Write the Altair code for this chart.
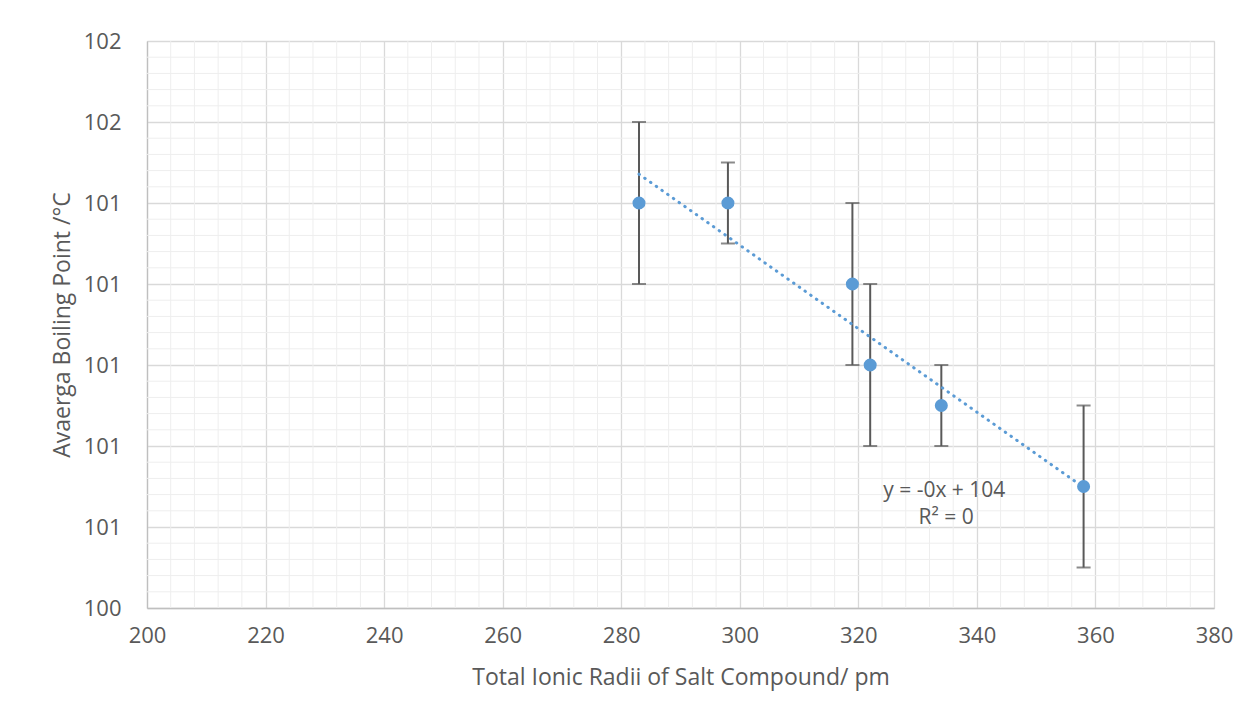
import altair as alt
import pandas as pd

# Data
radii = [283, 298, 319, 322, 334, 358]
boiling = [101.4, 101.4, 101.2, 101.0, 100.9, 100.7]
errors = [0.2, 0.1, 0.2, 0.2, 0.1, 0.2]

x_ticks = [200, 220, 240, 260, 280, 300, 320, 340, 360, 380]
y_ticks = [100.4, 100.6, 100.8, 101.0, 101.2, 101.4, 101.6, 101.8]
eq_lines = ["y = -0x + 104", "R² = 0"]
eq_x = [334.5, 334.8]
eq_y = [100.688, 100.622]

df = pd.DataFrame({
    "x": radii,
    "y": boiling,
    "lo": [b - e for b, e in zip(boiling, errors)],
    "hi": [b + e for b, e in zip(boiling, errors)],
})

# minor gridline positions (5 subdivisions between major ticks)
x_minor = [x_ticks[i] + 4 * k for i in range(len(x_ticks) - 1) for k in range(1, 5)]
y_minor = [round(y_ticks[i] + 0.04 * k, 3) for i in range(len(y_ticks) - 1) for k in range(1, 5)]

FONT = "Open Sans"
GRAY = "#595959"
Y_TITLE = "Avaerga Boiling Point /°C"

xs = alt.Scale(domain=[200, 380], nice=False, zero=False)
ys = alt.Scale(domain=[100.4, 101.8], nice=False, zero=False)

base = alt.Chart(df)

x_axis = alt.Axis(
    values=x_ticks, format="d", grid=True, gridColor="#d9d9d9", gridWidth=1.3,
    ticks=False, domain=True, domainColor="#bfbfbf", domainWidth=1.3,
    labelFont=FONT, labelFontSize=22, labelColor=GRAY, labelPadding=17,
    labelFlush=False, labelOverlap=False,
    title="Total Ionic Radii of Salt Compound/ pm", titleFont=FONT,
    titleFontSize=23, titleFontWeight="normal", titleColor=GRAY,
    titleX=533.5, titleY=69, titleBaseline="middle", titleAlign="center",
)
y_axis = alt.Axis(
    values=y_ticks, format=".0f", grid=True, gridColor="#d9d9d9", gridWidth=1.3,
    ticks=False, domain=True, domainColor="#bfbfbf", domainWidth=1.3,
    labelFont=FONT, labelFontSize=22, labelColor=GRAY, labelPadding=26,
    labelFlush=False, labelOverlap=False,
    title=Y_TITLE, titleFont=FONT,
    titleFontSize=23, titleFontWeight="normal", titleColor=GRAY,
    titleX=-85, titleY=283.5, titleAngle=-90, titleBaseline="middle",
    titleAlign="center",
)

axes_layer = base.mark_point(opacity=0).encode(
    x=alt.X("x:Q", scale=xs, axis=x_axis),
    y=alt.Y("y:Q", scale=ys, axis=y_axis),
)

minor_x = alt.Chart(pd.DataFrame({"v": x_minor})).mark_rule(
    color="#eeeeee", strokeWidth=1
).encode(x=alt.X("v:Q", scale=xs))

minor_y = alt.Chart(pd.DataFrame({"v": y_minor})).mark_rule(
    color="#eeeeee", strokeWidth=1
).encode(y=alt.Y("v:Q", scale=ys))

err = base.mark_errorbar(
    ticks={"size": 14, "thickness": 2, "color": GRAY},
    rule={"strokeWidth": 2, "color": GRAY},
).encode(
    x=alt.X("x:Q", scale=xs),
    y=alt.Y("lo:Q", scale=ys, title=Y_TITLE),
    y2="hi:Q",
)

trend = base.transform_regression("x", "y", extent=[283, 358]).mark_line(
    color="#5B9BD5", strokeWidth=3, strokeDash=[0.5, 6.5], strokeCap="round"
).encode(
    x=alt.X("x:Q", scale=xs),
    y=alt.Y("y:Q", scale=ys),
)

points = base.mark_circle(size=170, color="#5B9BD5", opacity=1).encode(
    x=alt.X("x:Q", scale=xs),
    y=alt.Y("y:Q", scale=ys),
)

eq = alt.Chart(pd.DataFrame({"t": eq_lines, "x": eq_x, "y": eq_y})).mark_text(
    font=FONT, fontSize=21, color=GRAY, align="center", baseline="middle"
).encode(
    x=alt.X("x:Q", scale=xs),
    y=alt.Y("y:Q", scale=ys),
    text="t:N",
)

chart = alt.layer(axes_layer, minor_x, minor_y, err, trend, points, eq).properties(
    width=1067, height=567,
    autosize=alt.AutoSizeParams(type="none"),
    padding={"left": 139, "top": 33, "right": 20, "bottom": 90},
).configure_view(stroke=None).configure(background="white")

chart.save("out.html", embed_options={"renderer": "svg", "actions": False})
